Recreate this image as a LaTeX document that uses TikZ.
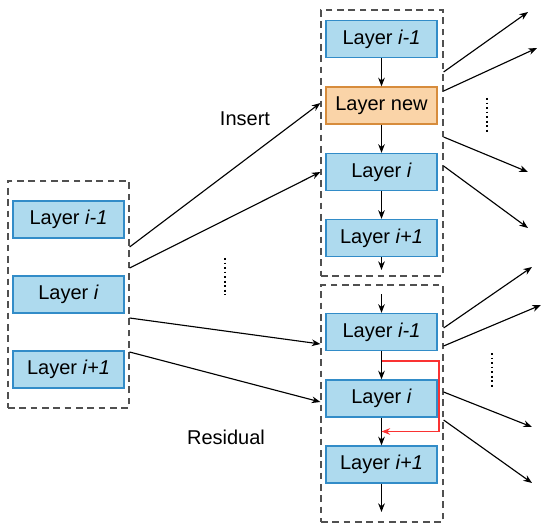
\documentclass[tikz,border=0pt]{standalone}
\usepackage{fontspec}
\setmainfont{Liberation Sans}
\usetikzlibrary{arrows.meta,calc}
\definecolor{layerblue}{RGB}{174,218,238}
\definecolor{layeredge}{RGB}{50,140,200}
\definecolor{neworange}{RGB}{250,212,168}
\definecolor{newedge}{RGB}{215,140,60}
\definecolor{resred}{RGB}{250,50,50}
\definecolor{framegray}{RGB}{80,80,80}
\tikzset{
  layer/.style={draw=layeredge, fill=layerblue, line width=1pt, inner sep=0pt,
    minimum width=83.25pt, minimum height=27.75pt, font=\fontsize{15}{17}\selectfont},
  newlayer/.style={layer, draw=newedge, fill=neworange},
  frame/.style={draw=framegray, line width=0.9pt, dash pattern={on 5pt off 3.5pt}, inner sep=0pt},
  flow/.style={-{Stealth[length=6.5pt,width=5pt]}, line width=0.85pt},
  res/.style={flow, color=resred},
  dots/.style={dotted, line width=1.4pt},
  lbl/.style={font=\fontsize{15}{17}\selectfont}
}
\begin{document}
\begin{tikzpicture}[x=0.75pt,y=0.75pt,yscale=-1,xscale=1]
\useasboundingbox (0,0) rectangle (550,531);

%Left block
\node[frame, minimum width=90.75pt, minimum height=170.25pt] (leftfr) at (68.5,294.5) {};
\node[layer] (l1) at (68.5,219.5) {Layer \textit{i-1}};
\node[layer] (l2) at (68.5,294.5) {Layer \textit{i}};
\node[layer] (l3) at (68.5,369.5) {Layer \textit{i+1}};

%Insert block
\node[frame, minimum width=91.5pt, minimum height=199.5pt] (topfr) at (382,143) {};
\node[layer] (t1) at (381.5,39) {Layer \textit{i-1}};
\node[newlayer] (tn) at (381.5,105.5) {Layer new};
\node[layer] (t2) at (381.5,172) {Layer \textit{i}};
\node[layer] (t3) at (381.5,238) {Layer \textit{i+1}};
\coordinate (tout) at (381.5,270);
\draw[flow] (t1) -- (tn);
\draw[flow] (tn) -- (t2);
\draw[flow] (t2) -- (t3);
\draw[flow] (t3) -- (tout);

%Residual block
\node[frame, minimum width=91.5pt, minimum height=177.75pt] (botfr) at (382,403.5) {};
\coordinate (bin) at (381.5,294);
\node[layer] (b1) at (381.5,332) {Layer \textit{i-1}};
\node[layer] (b2) at (381.5,398.5) {Layer \textit{i}};
\node[layer] (b3) at (381.5,464.5) {Layer \textit{i+1}};
\coordinate (bout) at (381.5,512);
\draw[flow] (bin) -- (b1);
\draw[flow] (b1) -- (b2);
\draw[flow] (b2) -- (b3);
\draw[flow] (b3) -- (bout);
\coordinate (r1) at ($(b1.south)!0.35!(b2.north)$);
\coordinate (r2) at ($(b2.south)!0.5!(b3.north)$);
\draw[res] (r1) -- ++(57.5,0) |- (r2);

%Left to right
\draw[flow] (leftfr.east |- 0,247) -- (topfr.west |- 0,103);
\draw[flow] (leftfr.east |- 0,268) -- (topfr.west |- 0,172);
\draw[flow] (leftfr.east |- 0,318) -- (botfr.west |- 0,344);
\draw[flow] (leftfr.east |- 0,352) -- (botfr.west |- 0,402);

%Outgoing
\coordinate (o1) at (528,12);
\coordinate (o2) at (537,48);
\coordinate (o3) at (528,172);
\coordinate (o4) at (528,228);
\draw[flow] (topfr.east |- 0,72) -- (o1);
\draw[flow] (topfr.east |- 0,91) -- (o2);
\draw[flow] (topfr.east |- 0,137) -- (o3);
\draw[flow] (topfr.east |- 0,166) -- (o4);
\coordinate (p1) at (532,267);
\coordinate (p2) at (541,305);
\coordinate (p3) at (532,427);
\coordinate (p4) at (532,483);
\draw[flow] (botfr.east |- 0,328) -- (p1);
\draw[flow] (botfr.east |- 0,346) -- (p2);
\draw[flow] (botfr.east |- 0,392) -- (p3);
\draw[flow] (botfr.east |- 0,420) -- (p4);

%Dots and labels
\draw[dots] (225,258) -- (225,295);
\draw[dots] (487,98) -- (487,133);
\draw[dots] (492,353) -- (492,388);
\node[lbl] (ins) at (245,119) {Insert};
\node[lbl] (resl) at (226,437) {Residual};
\end{tikzpicture}
\end{document}
